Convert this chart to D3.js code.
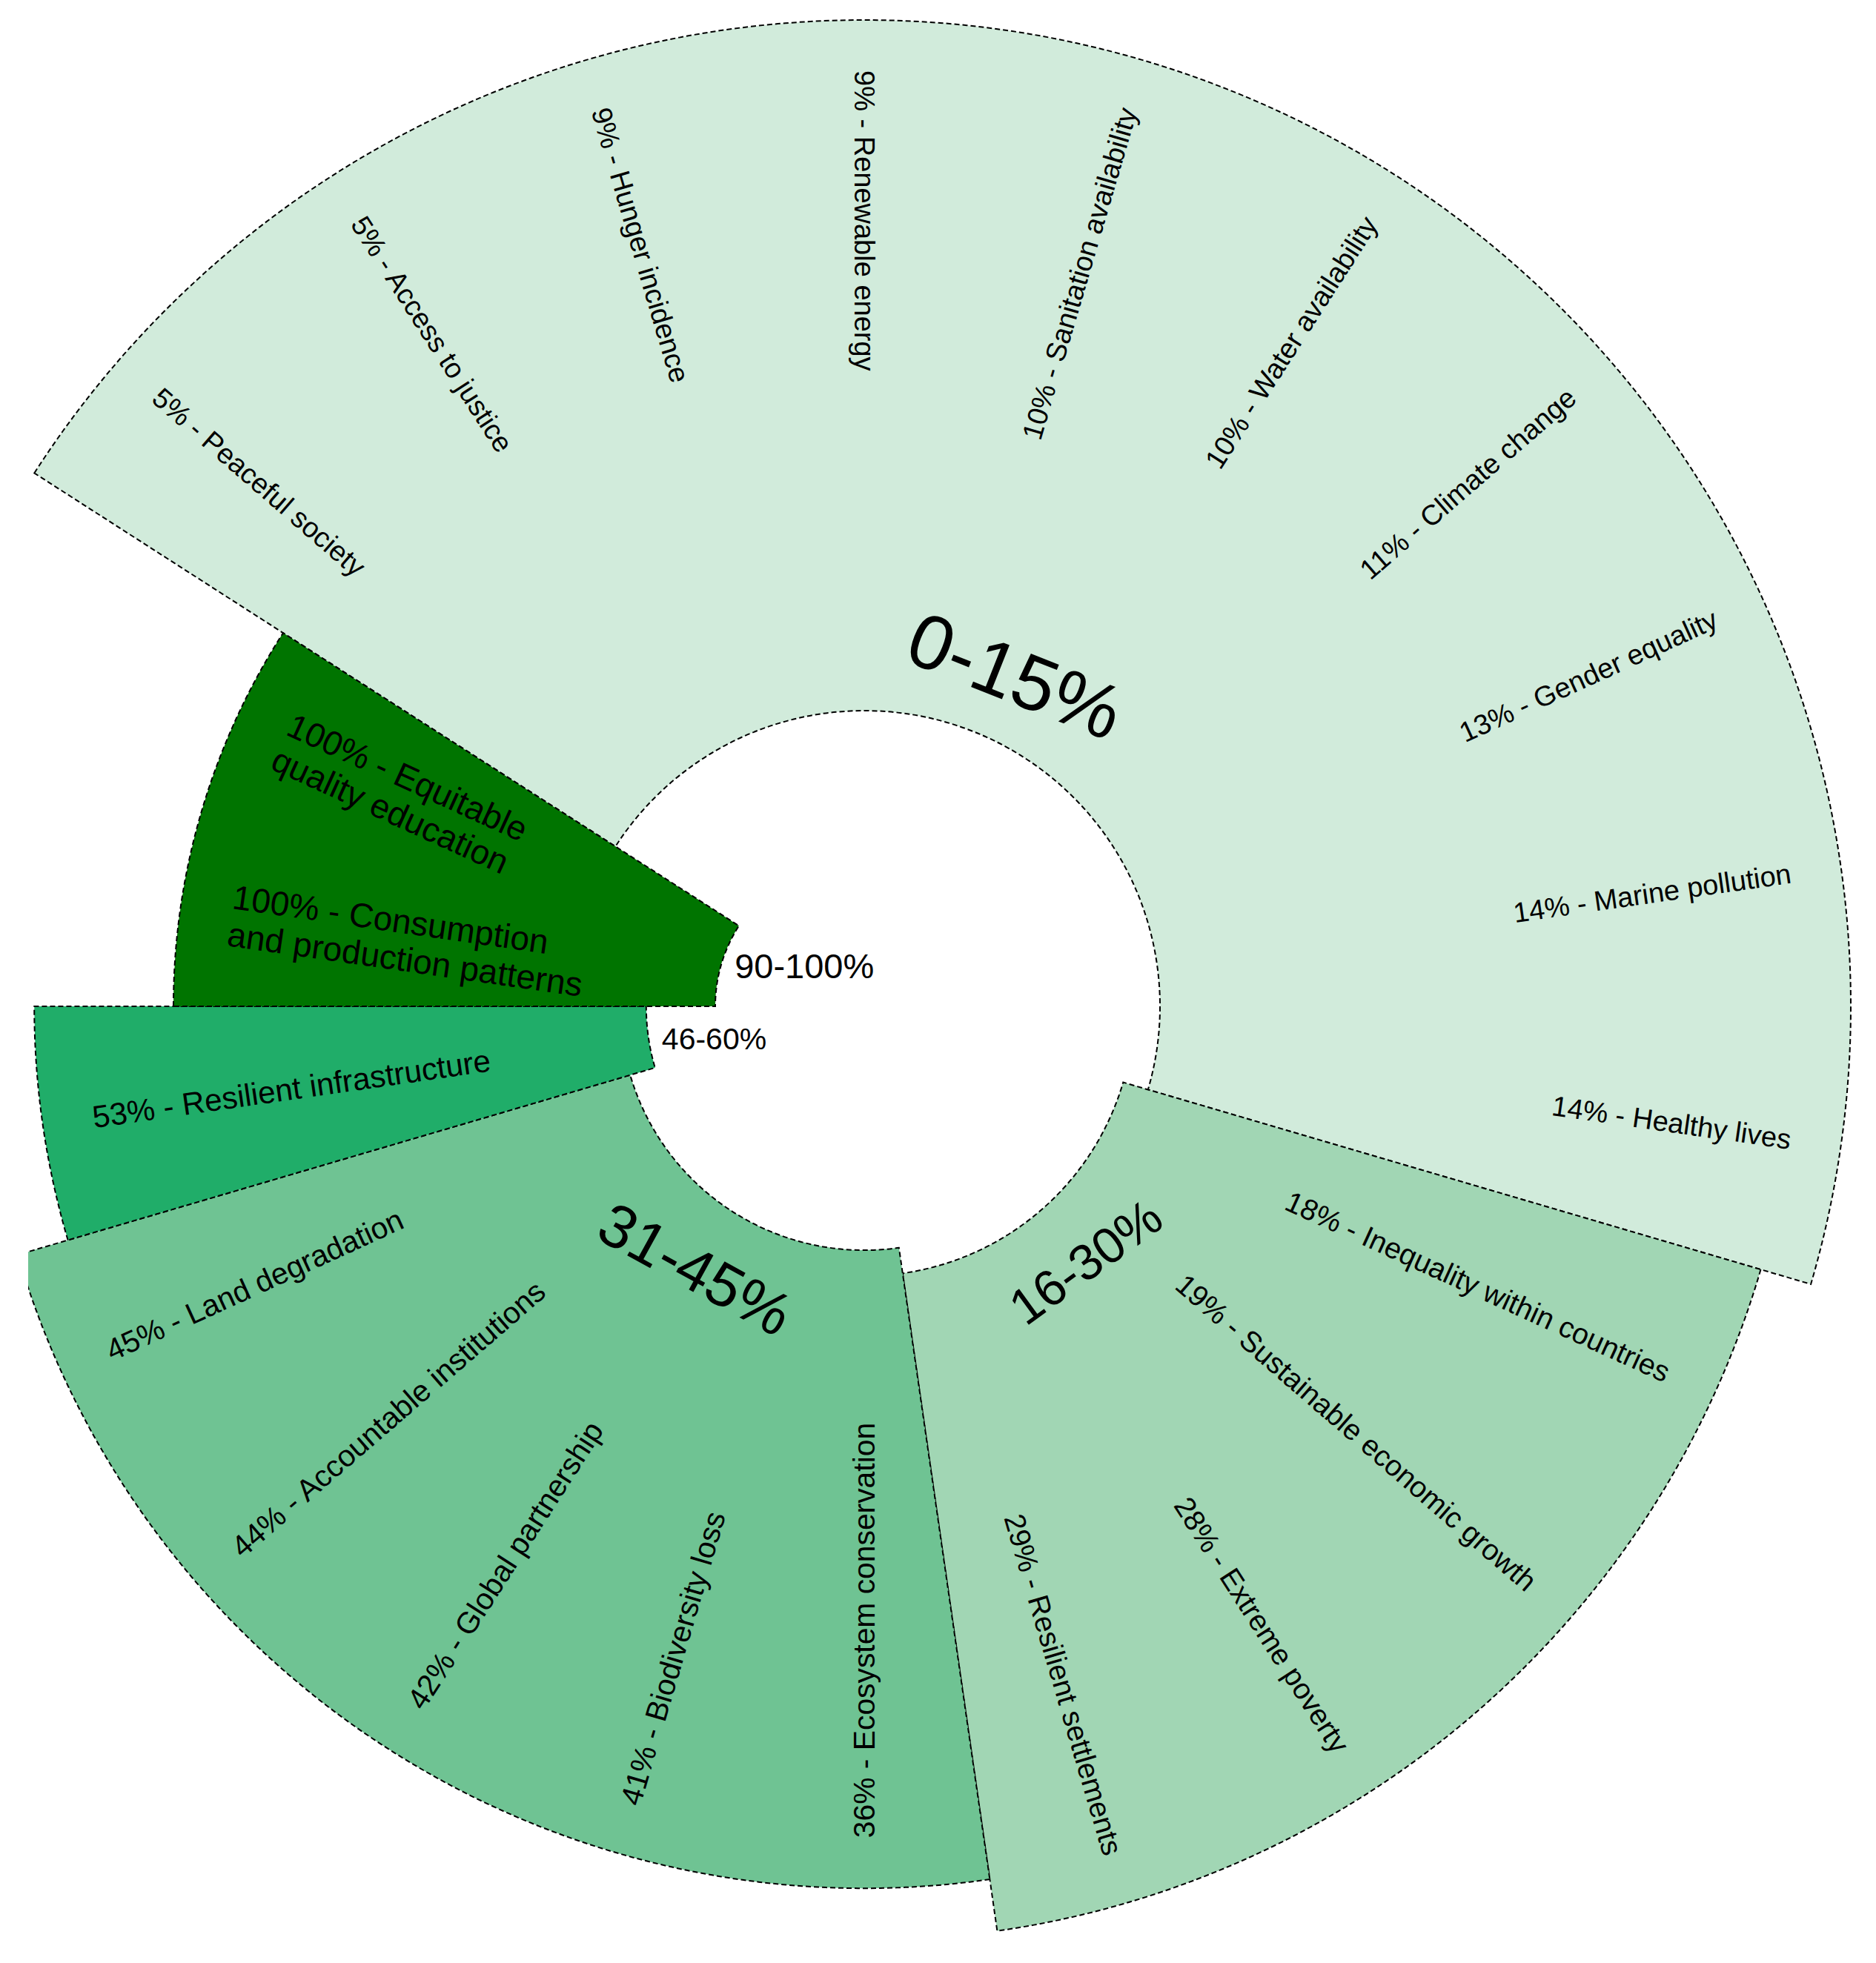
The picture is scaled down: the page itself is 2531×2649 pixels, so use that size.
<!DOCTYPE html>
<html><head><meta charset="utf-8">
<script src="https://cdn.jsdelivr.net/npm/d3@7"></script>
<style>
html,body{margin:0;padding:0;background:#fff;}
svg{display:block;}
text{font-family:"Liberation Sans", Arial, sans-serif;fill:#000;}
</style>
</head><body>
<svg id="chart" width="2531" height="2649"></svg>
<script>
// ---- data ----
const groups = ["0-15%", "16-30%", "31-45%", "46-60%", "90-100%"];
const groupMax = [15, 30, 45, 60, 100];
const groupColors = ["#d1ebdb", "#a1d6b4", "#6fc393", "#20ad69", "#007400"];
const groupLabelSize = [104, 68, 82, 41, 47];

const itemGroup = [0,0,0,0,0,0,0,0,0,0, 1,1,1,1, 2,2,2,2,2, 3, 4,4];
const itemValue = [5,5,9,9,10,10,11,13,14,14, 18,19,28,29, 36,41,42,44,45, 53, 100,100];
const itemName = [
  "Peaceful society", "Access to justice", "Hunger incidence", "Renewable energy",
  "Sanitation availability", "Water availability", "Climate change", "Gender equality",
  "Marine pollution", "Healthy lives",
  "Inequality within countries", "Sustainable economic growth", "Extreme poverty", "Resilient settlements",
  "Ecosystem conservation", "Biodiversity loss", "Global partnership", "Accountable institutions", "Land degradation",
  "Resilient infrastructure",
  "Consumption|and production patterns", "Equitable|quality education"
];

// ---- layout ----
const W = 2531, H = 2649, cx = 1166, cy = 1358;
const n = itemValue.length;
const step = 2 * Math.PI / n;
const start = -3.5 * step;
const angle = d3.scaleLinear().domain([0, n]).range([start, start + 2 * Math.PI]);
const rOuter = d3.scaleLinear().domain([15, 100]).range([1331, 932]);
const rInner = d3.scaleLinear().domain([15, 100]).range([399, 201]);
const fontSize = d3.scaleLinear().domain([15, 100]).range([38, 46]);

const svg = d3.select("#chart");
svg.append("rect").attr("width", W).attr("height", H).attr("fill", "#fff");
svg.append("defs").append("clipPath").attr("id", "clip")
  .append("rect").attr("x", 38).attr("y", 0).attr("width", W - 38).attr("height", H);

const g = svg.append("g").attr("clip-path", "url(#clip)")
  .append("g").attr("transform", `translate(${cx},${cy})`);

const groupData = groups.map((name, gi) => {
  const idx = itemGroup.map((v, i) => v === gi ? i : -1).filter(i => i >= 0);
  return { name, gi, first: idx[0], count: idx.length, max: groupMax[gi] };
});

const arc = d3.arc();
g.selectAll("path.grp").data(groupData).join("path")
  .attr("class", "grp")
  .attr("d", d => arc({
    innerRadius: rInner(d.max), outerRadius: rOuter(d.max),
    startAngle: angle(d.first), endAngle: angle(d.first + d.count)
  }))
  .attr("fill", d => groupColors[d.gi])
  .attr("stroke", "#000")
  .attr("stroke-width", 2)
  .attr("stroke-dasharray", "7,4");

// item labels
const toDeg = a => ((a * 180 / Math.PI) % 360 + 360) % 360;
itemValue.forEach((v, i) => {
  const gi = itemGroup[i];
  const a = angle(i + 0.5);
  const deg = toDeg(a);
  const r = rOuter(groupMax[gi]) - 68;
  const x = r * Math.sin(a), y = -r * Math.cos(a);
  const right = deg > 0.5 && deg < 179.5;
  const rot = right ? deg - 90 : deg + 90;
  const lines = (v + "% - " + itemName[i]).split("|");
  const t = g.append("text")
    .attr("transform", `translate(${x},${y}) rotate(${rot})`)
    .attr("text-anchor", right ? "end" : "start")
    .attr("font-size", fontSize(groupMax[gi]));
  lines.forEach((ln, j) => {
    t.append("tspan").attr("x", 0)
      .attr("dy", j === 0 ? (0.35 - 0.55 * (lines.length - 1)) + "em" : "1.1em")
      .text(ln);
  });
});

// group labels
groupData.forEach(d => {
  const a = (angle(d.first) + angle(d.first + d.count)) / 2;
  const deg = toDeg(a);
  if (d.count >= 3) {
    const r = rInner(d.max) + 92;
    const x = r * Math.sin(a), y = -r * Math.cos(a);
    let rot = (deg > 90 && deg < 270) ? deg - 180 : (deg >= 270 ? deg - 360 : deg);
    rot *= 0.88;
    g.append("text")
      .attr("transform", `translate(${x},${y}) rotate(${rot})`)
      .attr("text-anchor", "middle").attr("dy", "0.35em")
      .attr("font-size", groupLabelSize[d.gi])
      .text(d.name);
  } else {
    const r = rInner(d.max);
    const x = r * Math.sin(a) + 18, y = -r * Math.cos(a) + 2;
    g.append("text")
      .attr("x", x).attr("y", y)
      .attr("text-anchor", "start").attr("dy", "0.35em")
      .attr("font-size", groupLabelSize[d.gi])
      .text(d.name);
  }
});
</script>
</body></html>
